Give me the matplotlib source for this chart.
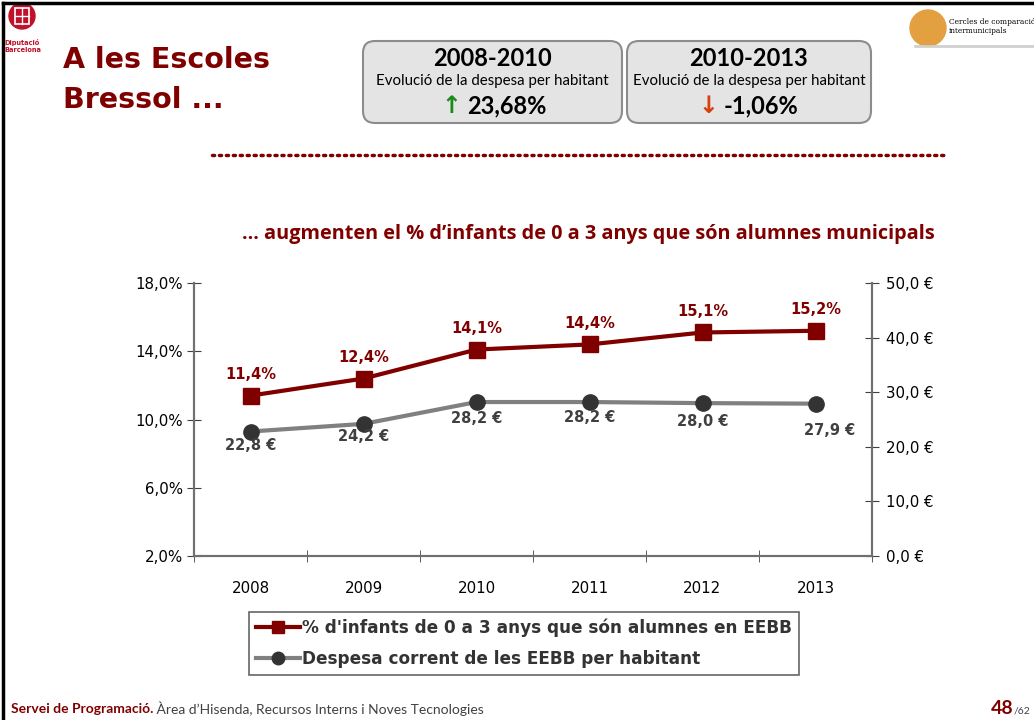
import matplotlib
matplotlib.use("Agg")
import matplotlib.pyplot as plt
from matplotlib.patches import FancyBboxPatch, Circle, Rectangle
from matplotlib.lines import Line2D

# data
years = ["2008", "2009", "2010", "2011", "2012", "2013"]
pct_infants = [11.4, 12.4, 14.1, 14.4, 15.1, 15.2]
despesa = [22.8, 24.2, 28.2, 28.2, 28.0, 27.9]

pct_label = "% d'infants de 0 a 3 anys que són alumnes en EEBB"
eur_label = "Despesa corrent de les EEBB per habitant"
chart_title = "... augmenten el % d\u2019infants de 0 a 3 anys que són alumnes municipals"

RED = "#800000"
GRAY = "#808080"
DARK = "#333333"

W, H = 1034, 720
fig = plt.figure(figsize=(W / 100, H / 100), dpi=100)

# background axes in pixel coordinates for all the slide decoration
bg = fig.add_axes([0, 0, 1, 1])
bg.set_xlim(0, W)
bg.set_ylim(H, 0)
bg.axis("off")

# slide frame (left and top)
bg.plot([3, 3], [3, H], color="black", lw=2.5)
bg.plot([3, W], [3, 3], color="black", lw=2.5)

# Diputació logo
bg.add_patch(Circle((22, 16), 13, color="#c0102a"))
bg.add_patch(Rectangle((15, 8), 14, 16, fill=False, ec="white", lw=1.2))
bg.plot([22, 22], [8, 24], color="white", lw=1)
bg.plot([15, 29], [16, 16], color="white", lw=1)
bg.text(4, 43, "Diputació", color="#c0102a", fontsize=4.8, fontweight="bold", va="center")
bg.text(4, 50, "Barcelona", color="#c0102a", fontsize=4.8, fontweight="bold", va="center")

# top right logo
bg.add_patch(Circle((928, 28), 18, color="#e2a040"))
bg.text(949, 22, "Cercles de comparació", family="DejaVu Serif", fontsize=5.4, va="center")
bg.text(949, 31, "intermunicipals", family="DejaVu Serif", fontsize=5.4, va="center")
bg.plot([915, W], [46, 46], color="#d0d0d0", lw=2)

# heading
bg.text(63, 60, "A les Escoles", color=RED, fontsize=20.5, fontweight="bold", va="center")
bg.text(63, 100, "Bressol ...", color=RED, fontsize=20.5, fontweight="bold", va="center")

# the two info boxes
boxes = [(363, 622, "2008-2010", "\u2191", "#1a8a1a", "23,68%"),
         (627, 871, "2010-2013", "\u2193", "#d84010", "-1,06%")]
for x0, x1, period, arrow, acol, val in boxes:
    bg.add_patch(FancyBboxPatch((x0, 41), x1 - x0, 82, boxstyle="round,pad=0,rounding_size=12",
                                fc="#e4e4e4", ec="#8c8c8c", lw=1.5))
    xc = (x0 + x1) / 2
    bg.text(xc, 58, period, family="Lato", fontsize=17, fontweight="bold", ha="center", va="center")
    bg.text(xc, 81, "Evolució de la despesa per habitant", family="Lato", fontsize=10.8,
            ha="center", va="center")
    bg.text(xc - 25, 106, val, family="Lato", fontsize=17, fontweight="bold", ha="left", va="center")
    bg.text(xc - 31, 106, arrow, family="DejaVu Sans", fontsize=17, fontweight="bold", color=acol,
            ha="right", va="center")

# dotted separator
bg.plot([212, 945], [155, 155], color=RED, lw=2.5, linestyle=(0, (0.6, 1.4)), dash_capstyle="round")

# chart title
bg.text(935, 234, chart_title, family="Open Sans", fontsize=14.3, fontweight="bold", color=RED,
        ha="right", va="center")

# footer
ft = bg.text(11, 709, "Servei de Programació.", family="Lato", fontsize=10, fontweight="bold",
             color=RED, va="center")
bg.annotate(" Àrea d\u2019Hisenda, Recursos Interns i Noves Tecnologies", xy=(1, 0.5), xycoords=ft,
            family="Lato", fontsize=10, color="#404040", va="center", ha="left")
bg.text(1013, 708, "48", family="Lato", fontsize=14, fontweight="bold", color=RED, ha="right", va="center")
bg.text(1014, 711, "/62", family="Lato", fontsize=7.5, color="#404040", ha="left", va="center")

# chart
ax = fig.add_axes([194 / W, 1 - 556 / H, (872 - 194) / W, (556 - 283) / H])
ax.patch.set_alpha(0)
x = list(range(len(years)))

ax.plot(x, pct_infants, color=RED, lw=3, marker="s", markersize=11, zorder=3)
ax.set_ylim(2, 18)
ax.set_yticks([2, 6, 10, 14, 18])
ax.set_yticklabels([("%.1f%%" % v).replace(".", ",") for v in [2, 6, 10, 14, 18]])
ax.set_xlim(-0.5, len(years) - 0.5)
ax.set_xticks(x)
ax.set_xticklabels(years)
ax.set_xticks([i - 0.5 for i in range(len(years) + 1)], minor=True)
ax.tick_params(axis="x", which="major", length=0, pad=18)
ax.tick_params(axis="x", which="minor", length=8, direction="inout", color="#404040")
ax.tick_params(axis="y", length=10, direction="inout", color="#404040", pad=3)
ax.tick_params(labelsize=10.8)

ax2 = ax.twinx()
ax2.plot(x, despesa, color=GRAY, lw=3, marker="o", markersize=11, markerfacecolor=DARK,
         markeredgecolor=DARK, zorder=3)
ax2.set_ylim(0, 50)
ax2.set_yticks(range(0, 51, 10))
ax2.set_yticklabels([("%.1f \u20ac" % v).replace(".", ",") for v in range(0, 51, 10)])
ax2.tick_params(axis="y", length=10, direction="inout", color="#404040", labelsize=10.8, pad=5)

for a in (ax, ax2):
    a.spines["top"].set_visible(False)
    for s in ("left", "right", "bottom"):
        a.spines[s].set_color("#707070")
        a.spines[s].set_linewidth(1.5)

for i, v in enumerate(pct_infants):
    ax.annotate(("%.1f%%" % v).replace(".", ","), (i, v), xytext=(0, 15), textcoords="offset points",
                ha="center", va="center", fontsize=10.5, fontweight="bold", color=RED)

eur_offsets = [(0, -10), (0, -9), (0, -12), (0, -11), (0, -13), (10, -19)]
for i, v in enumerate(despesa):
    ax2.annotate(("%.1f \u20ac" % v).replace(".", ","), (i, v), xytext=eur_offsets[i],
                 textcoords="offset points", ha="center", va="center", fontsize=10.5,
                 fontweight="bold", color="#404040")

handles = [Line2D([], [], color=RED, lw=3, marker="s", markersize=9),
           Line2D([], [], color=GRAY, lw=3, marker="o", markersize=9, markerfacecolor=DARK,
                  markeredgecolor=DARK)]
leg = fig.legend(handles, [pct_label, eur_label], loc="upper left",
                 bbox_to_anchor=(249 / W, 1 - 612 / H), bbox_transform=fig.transFigure,
                 frameon=True, fancybox=False, edgecolor="#404040", handlelength=2.6,
                 handletextpad=0.15, borderpad=0.4, borderaxespad=0, labelspacing=0.75,
                 prop={"weight": "bold", "size": 12.2})
leg.get_frame().set_linewidth(1.2)
for t in leg.get_texts():
    t.set_color("#333333")

fig.savefig("out.png", dpi=100)
